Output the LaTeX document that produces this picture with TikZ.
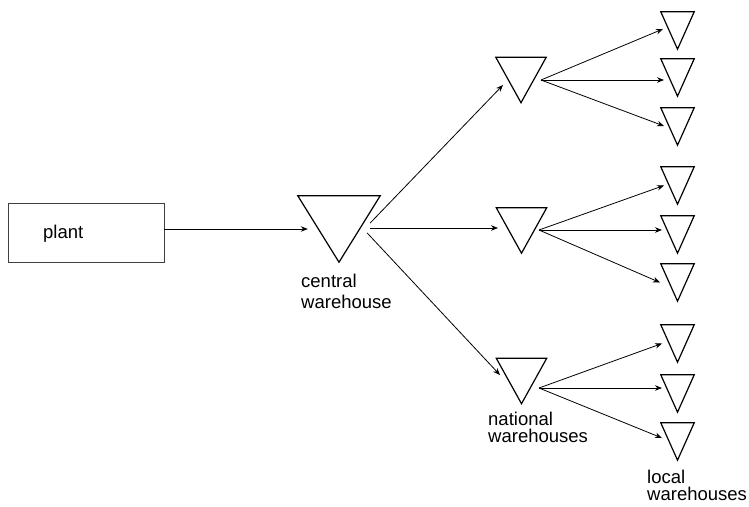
\documentclass[tikz,border=0pt]{standalone}
\usepackage{fontspec}
\setmainfont{Liberation Sans}
\usetikzlibrary{arrows.meta}

\begin{document}
\begin{tikzpicture}[x=1pt,y=-1pt,
  lbl/.style={font=\fontsize{18.5}{20}\selectfont, inner sep=0pt, anchor=base west},
  plantbox/.style={draw=black!75, line width=0.8pt, minimum width=156pt, minimum height=59pt, inner sep=0pt},
  slot/.style={draw=none, inner sep=0pt, minimum width=#1},
  central/.style={slot=82pt, minimum height=66pt},
  national/.style={slot=50pt, minimum height=45pt},
  local/.style={slot=33pt, minimum height=37pt},
  triline/.style={line width=1.2pt, line join=miter},
  flow/.style={line width=0.8pt, -{Stealth[length=7pt,width=5.5pt]}}
]
\useasboundingbox (0,0) rectangle (749,506);

% plant
\node[plantbox] (plant) at (86,232.5) {};
\node[lbl] (plant-text) at (43,238) {plant};

% warehouse slots (triangles drawn below)
\node[central]  (c)  at (339,229) {};
\node[national] (n1) at (521,80) {};
\node[national] (n2) at (521.5,230.5) {};
\node[national] (n3) at (521.5,381) {};
\node[local] (l1) at (677.5,30.5) {};
\node[local] (l2) at (677.5,77.5) {};
\node[local] (l3) at (677.5,126.5) {};
\node[local] (l4) at (677.5,185.5) {};
\node[local] (l5) at (677.5,234.5) {};
\node[local] (l6) at (677.5,282.5) {};
\node[local] (l7) at (677.5,343.5) {};
\node[local] (l8) at (677.5,393.5) {};
\node[local] (l9) at (677.5,441.5) {};

\foreach \n in {c,n1,n2,n3,l1,l2,l3,l4,l5,l6,l7,l8,l9}
  \draw[triline] (\n.north west) -- (\n.north east) -- (\n.south) -- cycle;

% labels
\node[lbl] (c-t1) at (301,287) {central};
\node[lbl] (c-t2) at (301,308) {warehouse};
\node[lbl] (n-t1) at (488,425.5) {national};
\node[lbl] (n-t2) at (488,442.5) {warehouses};
\node[lbl] (l-t1) at (647,483) {local};
\node[lbl] (l-t2) at (647,500) {warehouses};

% plant -> central
\draw[flow] (plant.east |- c.west) -- ([xshift=10pt]c.west);

% central -> national (shifts in picture units, y pointing down)
\draw[flow] ([shift={(-10,-6)}]c.east) -- ([shift={(-18,5)}]n1.center);
\draw[flow] ([shift={(-10,-1)}]c.east) -- ([shift={(-23.5,-2.5)}]n2.center);
\draw[flow] ([shift={(-13,4)}]c.east) -- ([shift={(-21.5,-6)}]n3.center);

% national -> local
\coordinate (n1-out) at ([shift={(20,0)}]n1.center);
\coordinate (n2-out) at ([shift={(17.5,-0.5)}]n2.center);
\coordinate (n3-out) at ([shift={(17.5,7)}]n3.center);
\coordinate (l2-in) at ([shift={(-13.5,0)}]l2.center);
\coordinate (l5-in) at ([shift={(-15.5,0)}]l5.center);
\coordinate (l8-in) at ([shift={(-15.5,0)}]l8.center);

\draw[flow] (n1-out) -- ([shift={(-14.5,-1.5)}]l1.center);
\draw[flow] (n1-out) -- (n1-out -| l2-in);
\draw[flow] (n1-out) -- ([shift={(-13.5,-0.5)}]l3.center);

\draw[flow] (n2-out) -- ([shift={(-13.5,0)}]l4.center);
\draw[flow] (n2-out) -- (n2-out -| l5-in);
\draw[flow] (n2-out) -- ([shift={(-17.5,0)}]l6.center);

\draw[flow] (n3-out) -- ([shift={(-15.5,0)}]l7.center);
\draw[flow] (n3-out) -- (n3-out -| l8-in);
\draw[flow] (n3-out) -- ([shift={(-15.5,-3.5)}]l9.center);
\end{tikzpicture}
\end{document}
